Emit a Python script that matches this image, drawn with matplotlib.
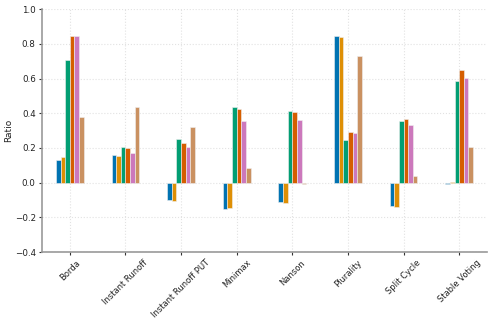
import matplotlib
matplotlib.use("Agg")
import matplotlib.pyplot as plt
import numpy as np

categories = ["Borda", "Instant Runoff", "Instant Runoff PUT", "Minimax", "Nanson",
              "Plurality", "Split Cycle", "Stable Voting"]
series_names = ["S1", "S2", "S3", "S4", "S5", "S6"]
s1 = [0.131, 0.160, -0.100, -0.150, -0.113, 0.846, -0.134, -0.008]
s2 = [0.150, 0.156, -0.106, -0.144, -0.115, 0.839, -0.138, 0.003]
s3 = [0.708, 0.206, 0.254, 0.437, 0.414, 0.248, 0.354, 0.587]
s4 = [0.846, 0.198, 0.231, 0.425, 0.408, 0.292, 0.369, 0.648]
s5 = [0.846, 0.173, 0.208, 0.354, 0.362, 0.285, 0.333, 0.602]
s6 = [0.377, 0.438, 0.321, 0.083, -0.005, 0.731, 0.037, 0.204]
series = [s1, s2, s3, s4, s5, s6]
colors = ["#0173b2", "#de8f05", "#029e73", "#d55e00", "#cc78bc", "#ca9161"]

fig = plt.figure(figsize=(4.92, 3.28), dpi=100)
ax = fig.add_axes([42/492, 76/328, 445/492, 242.7/328])

x = np.arange(len(categories))
n = len(series)
w = 0.5 / n
for i, (vals, c, name) in enumerate(zip(series, colors, series_names)):
    ax.bar(x + (i - (n - 1) / 2) * w, vals, width=w, color=c, edgecolor="#f0f0f0",
           linewidth=0.4, label=name, zorder=3)

ax.set_xlim(-0.5, len(categories) - 0.5)
ax.set_ylim(-0.4, 1.0)
ax.set_yticks(np.arange(-0.4, 1.01, 0.2))
ax.set_xticks(x)
ax.set_xticklabels(categories, rotation=45, fontsize=6)
ax.tick_params(axis="y", labelsize=6.3)
ax.tick_params(axis="both", colors="#333333", labelcolor="#222222", length=2.5, width=0.8, pad=2)
ax.set_ylabel("Ratio", fontsize=6.5, color="#222222")
ax.yaxis.set_label_coords(-29/445, 0.5)
ax.grid(True, color="#e2e2e2", linestyle=":", linewidth=0.8, zorder=0)
for s in ["top", "right"]:
    ax.spines[s].set_visible(False)
for s in ["left", "bottom"]:
    ax.spines[s].set_color("#999999")
    ax.spines[s].set_linewidth(1.2)

fig.savefig("out.png", dpi=100)
